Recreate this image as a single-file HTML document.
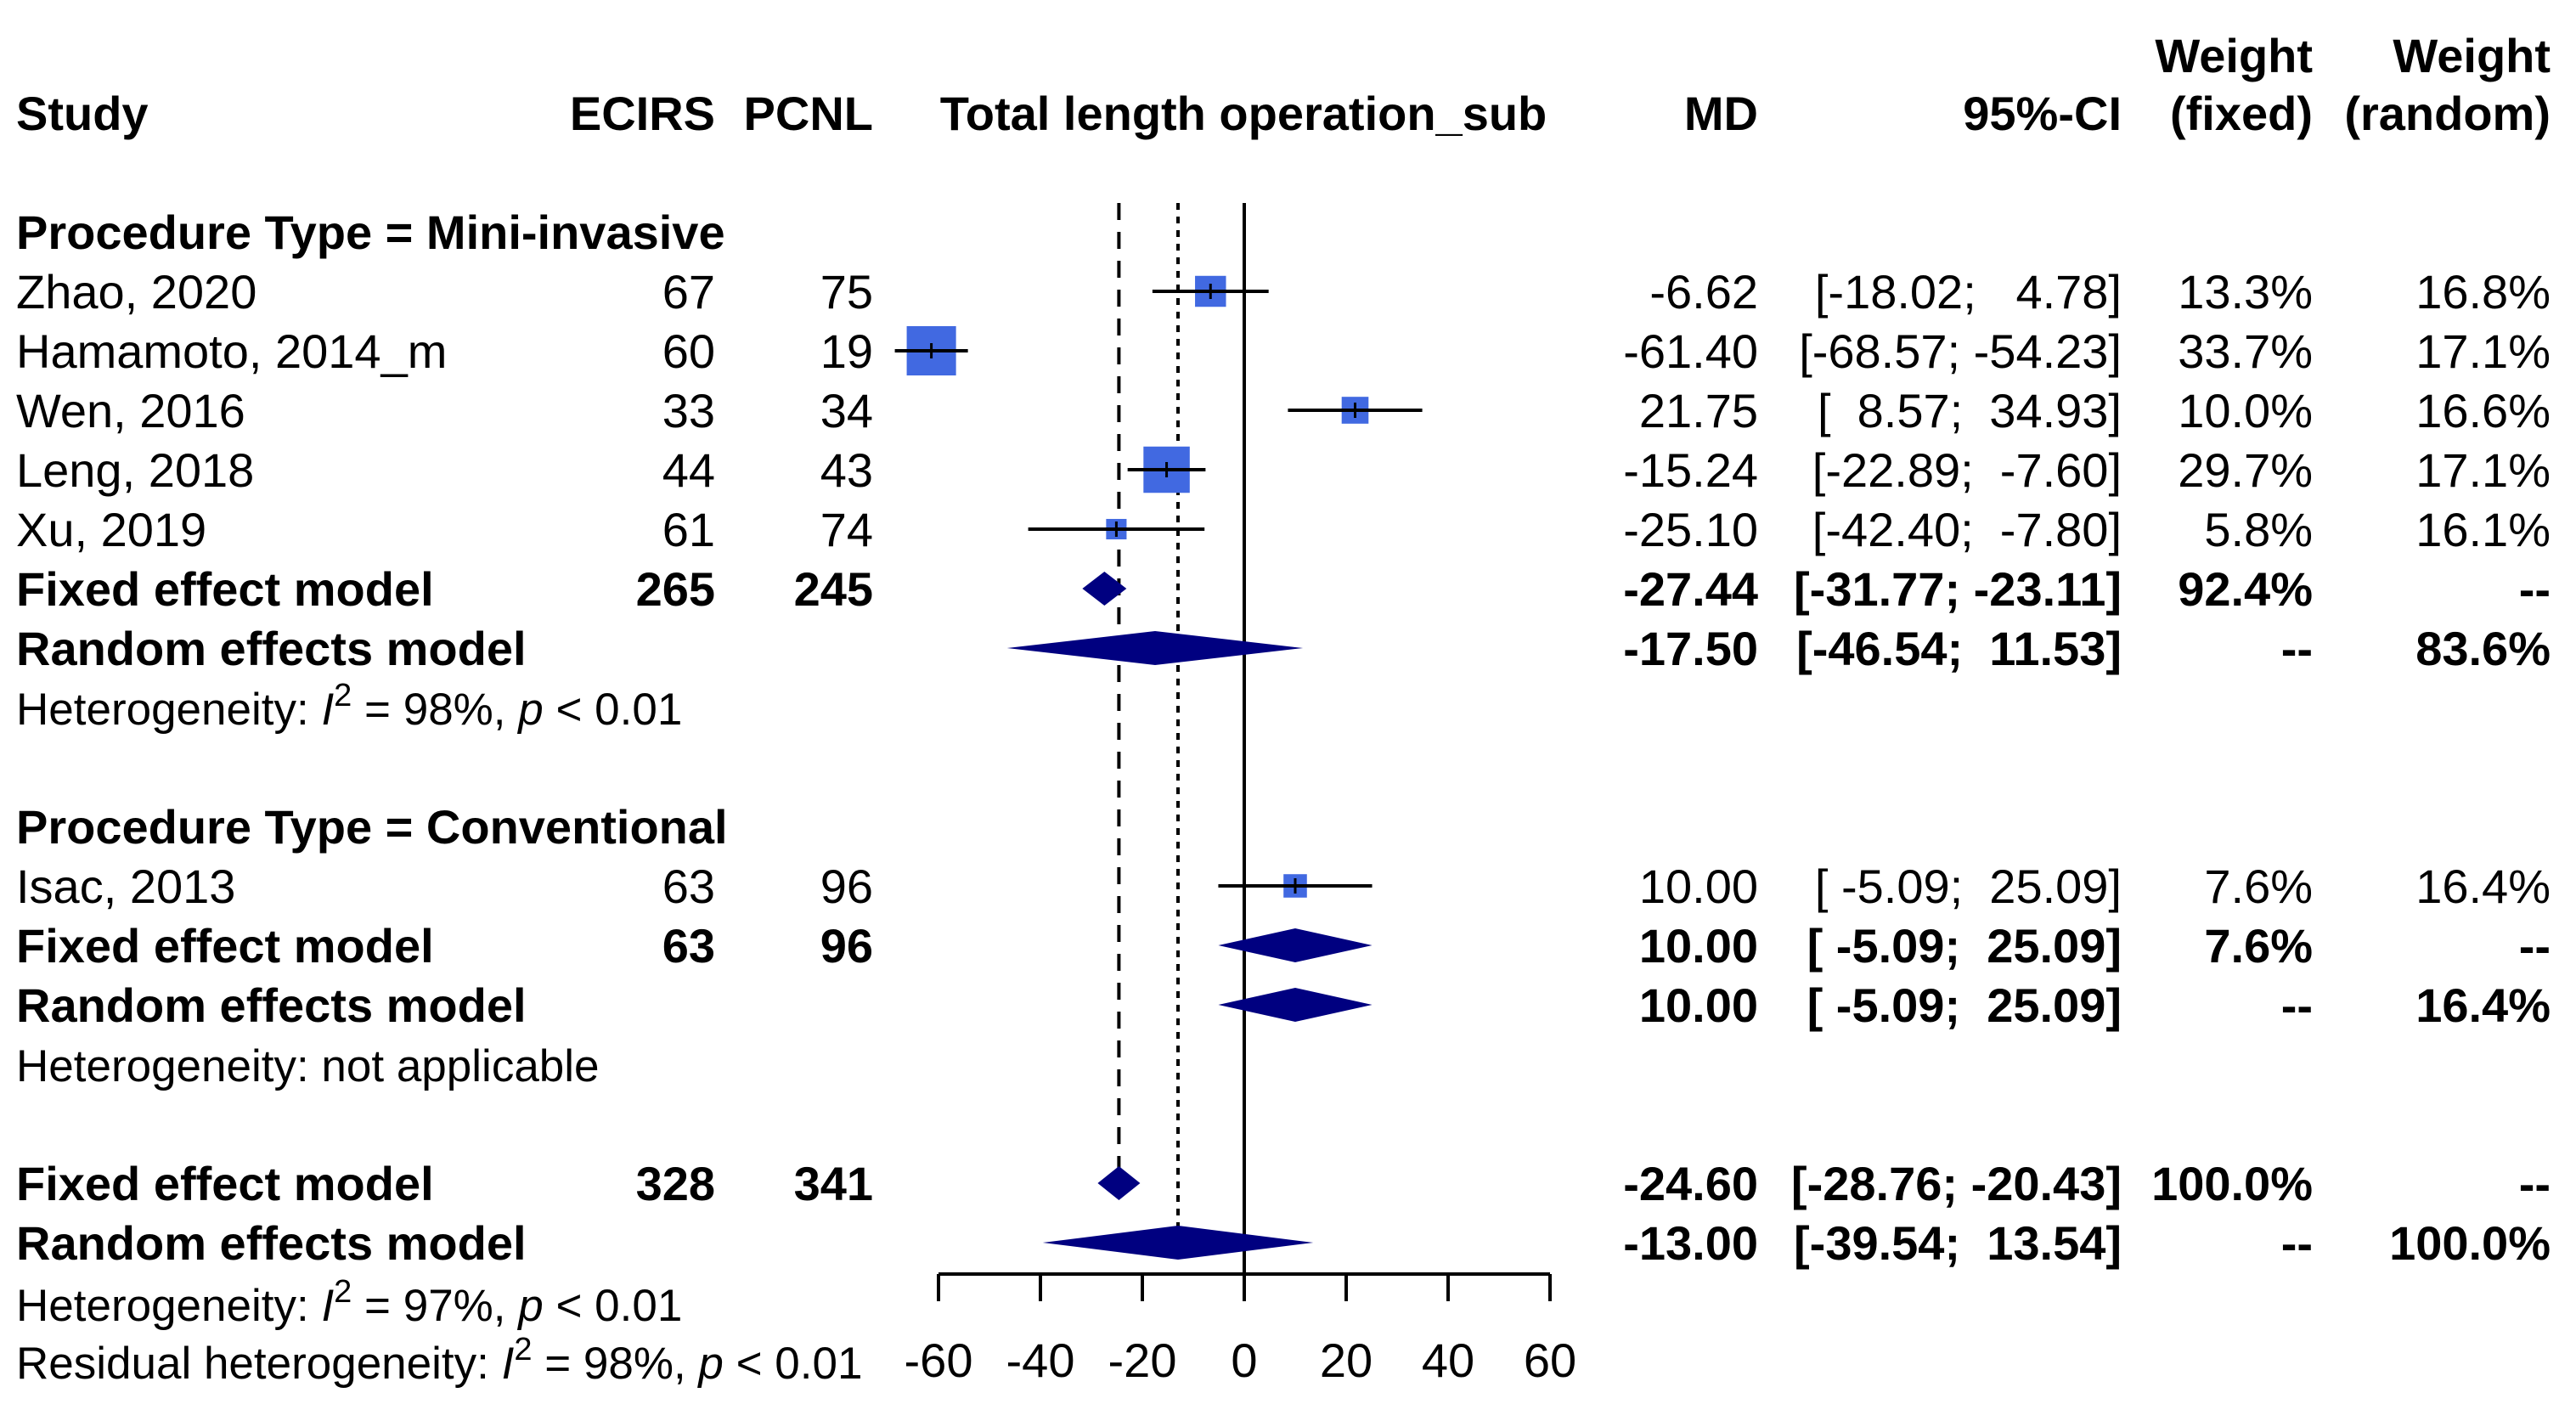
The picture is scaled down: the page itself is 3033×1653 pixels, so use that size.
<!DOCTYPE html>
<html><head><meta charset="utf-8"><style>
html,body{margin:0;padding:0;background:#fff;}
svg{display:block;font-family:"Liberation Sans",Arial,sans-serif;}
svg text{white-space:pre;}
</style></head><body>
<svg id="chart" width="3033" height="1653" viewBox="0 0 3033 1653" xmlns="http://www.w3.org/2000/svg">
<g id="text" font-size="56" fill="#000"></g>
<g id="marks"></g>
</svg>
<script>
// ---- data ----
const studies = ["Zhao, 2020","Hamamoto, 2014_m","Wen, 2016","Leng, 2018","Xu, 2019","Isac, 2013"];
const ecirsN = [67,60,33,44,61,63];
const pcnlN = [75,19,34,43,74,96];
const md = [-6.62,-61.40,21.75,-15.24,-25.10,10.00];
const ciLow = [-18.02,-68.57,8.57,-22.89,-42.40,-5.09];
const ciHigh = [4.78,-54.23,34.93,-7.60,-7.80,25.09];
const wFixed = [13.3,33.7,10.0,29.7,5.8,7.6];
const wRandom = [16.8,17.1,16.6,17.1,16.1,16.4];
const studyRows = [1,2,3,4,5,11];
const pooledRows = [6,7,12,13,16,17];
const pooledLabel = ["Fixed effect model","Random effects model","Fixed effect model","Random effects model","Fixed effect model","Random effects model"];
const pooledEst = [-27.44,-17.50,10.00,10.00,-24.60,-13.00];
const pooledLow = [-31.77,-46.54,-5.09,-5.09,-28.76,-39.54];
const pooledHigh = [-23.11,11.53,25.09,25.09,-20.43,13.54];
const pooledE = ["265","","63","","328",""];
const pooledC = ["245","","96","","341",""];
const pooledWF = ["92.4%","--","7.6%","--","100.0%","--"];
const pooledWR = ["--","83.6%","--","16.4%","--","100.0%"];
const xTicks = [-60,-40,-20,0,20,40,60];
const fixedOverall = -24.60, randomOverall = -13.00;

// ---- layout ----
const X0 = 1465, PX = 6.0;
const xs = v => X0 + v*PX;
const rowY = r => 273 + r*70;
const NS = "http://www.w3.org/2000/svg";
const TG = document.getElementById('text'), MG = document.getElementById('marks');
function mk(tag, attrs, parent){const e=document.createElementNS(NS,tag);for(const k in attrs)e.setAttribute(k,attrs[k]);parent.appendChild(e);return e;}
function txt(x,y,s,anchor,bold,name){
  const e=mk('text',{x:x,y:y+20,'text-anchor':anchor||'start'},TG);
  if(bold)e.setAttribute('font-weight','bold');
  e.textContent=s;
  
  
  return e;
}
const fmt = v => v.toFixed(2);
const ciStr = (l,h) => {let a=fmt(l),b=fmt(h);while(a.length<6)a=' '+a;while(b.length<6)b=' '+b;return '['+a+'; '+b+']';};
const cEC=842,cPC=1028,cMD=2070,cCI=2498,cWF=2723,cWR=3003;

txt(19,133,"Study","start",true,"header-study");
txt(cEC,133,"ECIRS","end",true,"header-ecirs");
txt(cPC,133,"PCNL","end",true,"header-pcnl");
txt(1464,133,"Total length operation_sub","middle",true,"header-plot-title");
txt(cMD,133,"MD","end",true,"header-md");
txt(cCI,133,"95%-CI","end",true,"header-ci");
txt(cWF,65,"Weight","end",true,"header-weight-fixed-1");
txt(cWF,133,"(fixed)","end",true,"header-weight-fixed-2");
txt(cWR,65,"Weight","end",true,"header-weight-random-1");
txt(cWR,133,"(random)","end",true,"header-weight-random-2");
txt(19,rowY(0),"Procedure Type = Mini-invasive","start",true,"subgroup-mini-invasive");
txt(19,rowY(10),"Procedure Type = Conventional","start",true,"subgroup-conventional");

function het(y,i2,name,prefix){
  const e=txt(19,y,"","start",false,name);
  e.setAttribute('font-size','53');
  e.innerHTML = i2 ? prefix+'<tspan font-style="italic">I</tspan><tspan dy="-22" font-size="38">2</tspan><tspan dy="22"> = '+i2+', </tspan><tspan font-style="italic">p</tspan> &lt; 0.01' : 'Heterogeneity: not applicable';
}
het(rowY(8),"98%","heterogeneity-mini","Heterogeneity: ");
het(rowY(14),null,"heterogeneity-conventional","");
het(1535,"97%","heterogeneity-overall","Heterogeneity: ");
het(1603,"98%","residual-heterogeneity","Residual heterogeneity: ");

const plotTop = 239, axisY = 1500;
let l=mk('line',{x1:xs(0),x2:xs(0),y1:plotTop,y2:axisY,stroke:'#000','stroke-width':4},MG);


l=mk('line',{x1:xs(fixedOverall),x2:xs(fixedOverall),y1:plotTop,y2:rowY(16)-18,stroke:'#000','stroke-width':4,'stroke-dasharray':'20 14'},MG);


l=mk('line',{x1:xs(randomOverall),x2:xs(randomOverall),y1:plotTop,y2:rowY(17)-18,stroke:'#000','stroke-width':4,'stroke-dasharray':'8 8'},MG);



studies.forEach((s,i)=>{
  const y=rowY(studyRows[i]);
  txt(19,y,s,"start",false,"study-name");
  txt(cEC,y,String(ecirsN[i]),"end",false,"ecirs-n");
  txt(cPC,y,String(pcnlN[i]),"end",false,"pcnl-n");
  txt(cMD,y,fmt(md[i]),"end",false,"md-value");
  txt(cCI,y,ciStr(ciLow[i],ciHigh[i]),"end",false,"ci-value");
  txt(cWF,y,wFixed[i].toFixed(1)+"%","end",false,"weight-fixed");
  txt(cWR,y,wRandom[i].toFixed(1)+"%","end",false,"weight-random");
  const sz=10*Math.sqrt(wFixed[i]);
  const r=mk('rect',{x:xs(md[i])-sz/2,y:y-sz/2,width:sz,height:sz,fill:'#4169E1'},MG);
  
  
  const c=mk('line',{x1:xs(ciLow[i]),x2:xs(ciHigh[i]),y1:y,y2:y,stroke:'#000','stroke-width':4},MG);
  
  
  const t=mk('line',{x1:xs(md[i]),x2:xs(md[i]),y1:y-9,y2:y+9,stroke:'#000','stroke-width':3},MG);
  
  
});

pooledRows.forEach((r,i)=>{
  const y=rowY(r);
  txt(19,y,pooledLabel[i],"start",true,"pooled-label");
  txt(cEC,y,pooledE[i],"end",true,"pooled-ecirs-n");
  txt(cPC,y,pooledC[i],"end",true,"pooled-pcnl-n");
  txt(cMD,y,fmt(pooledEst[i]),"end",true,"pooled-md");
  txt(cCI,y,ciStr(pooledLow[i],pooledHigh[i]),"end",true,"pooled-ci");
  txt(cWF,y,pooledWF[i],"end",true,"pooled-weight-fixed");
  txt(cWR,y,pooledWR[i],"end",true,"pooled-weight-random");
  const h=20;
  const p=mk('polygon',{points:[xs(pooledLow[i])+','+y, xs(pooledEst[i])+','+(y-h), xs(pooledHigh[i])+','+y, xs(pooledEst[i])+','+(y+h)].join(' '),fill:'#000080'},MG);
  
  
});

const ax=mk('line',{x1:xs(xTicks[0]),x2:xs(xTicks[xTicks.length-1]),y1:axisY,y2:axisY,stroke:'#000','stroke-width':4},MG);


xTicks.forEach(v=>{
  const tk=mk('line',{x1:xs(v),x2:xs(v),y1:axisY,y2:axisY+32,stroke:'#000','stroke-width':4},MG);
  
  
  txt(xs(v),1601,String(v),"middle",false,"x-tick-label");
});
</script>
</body></html>
